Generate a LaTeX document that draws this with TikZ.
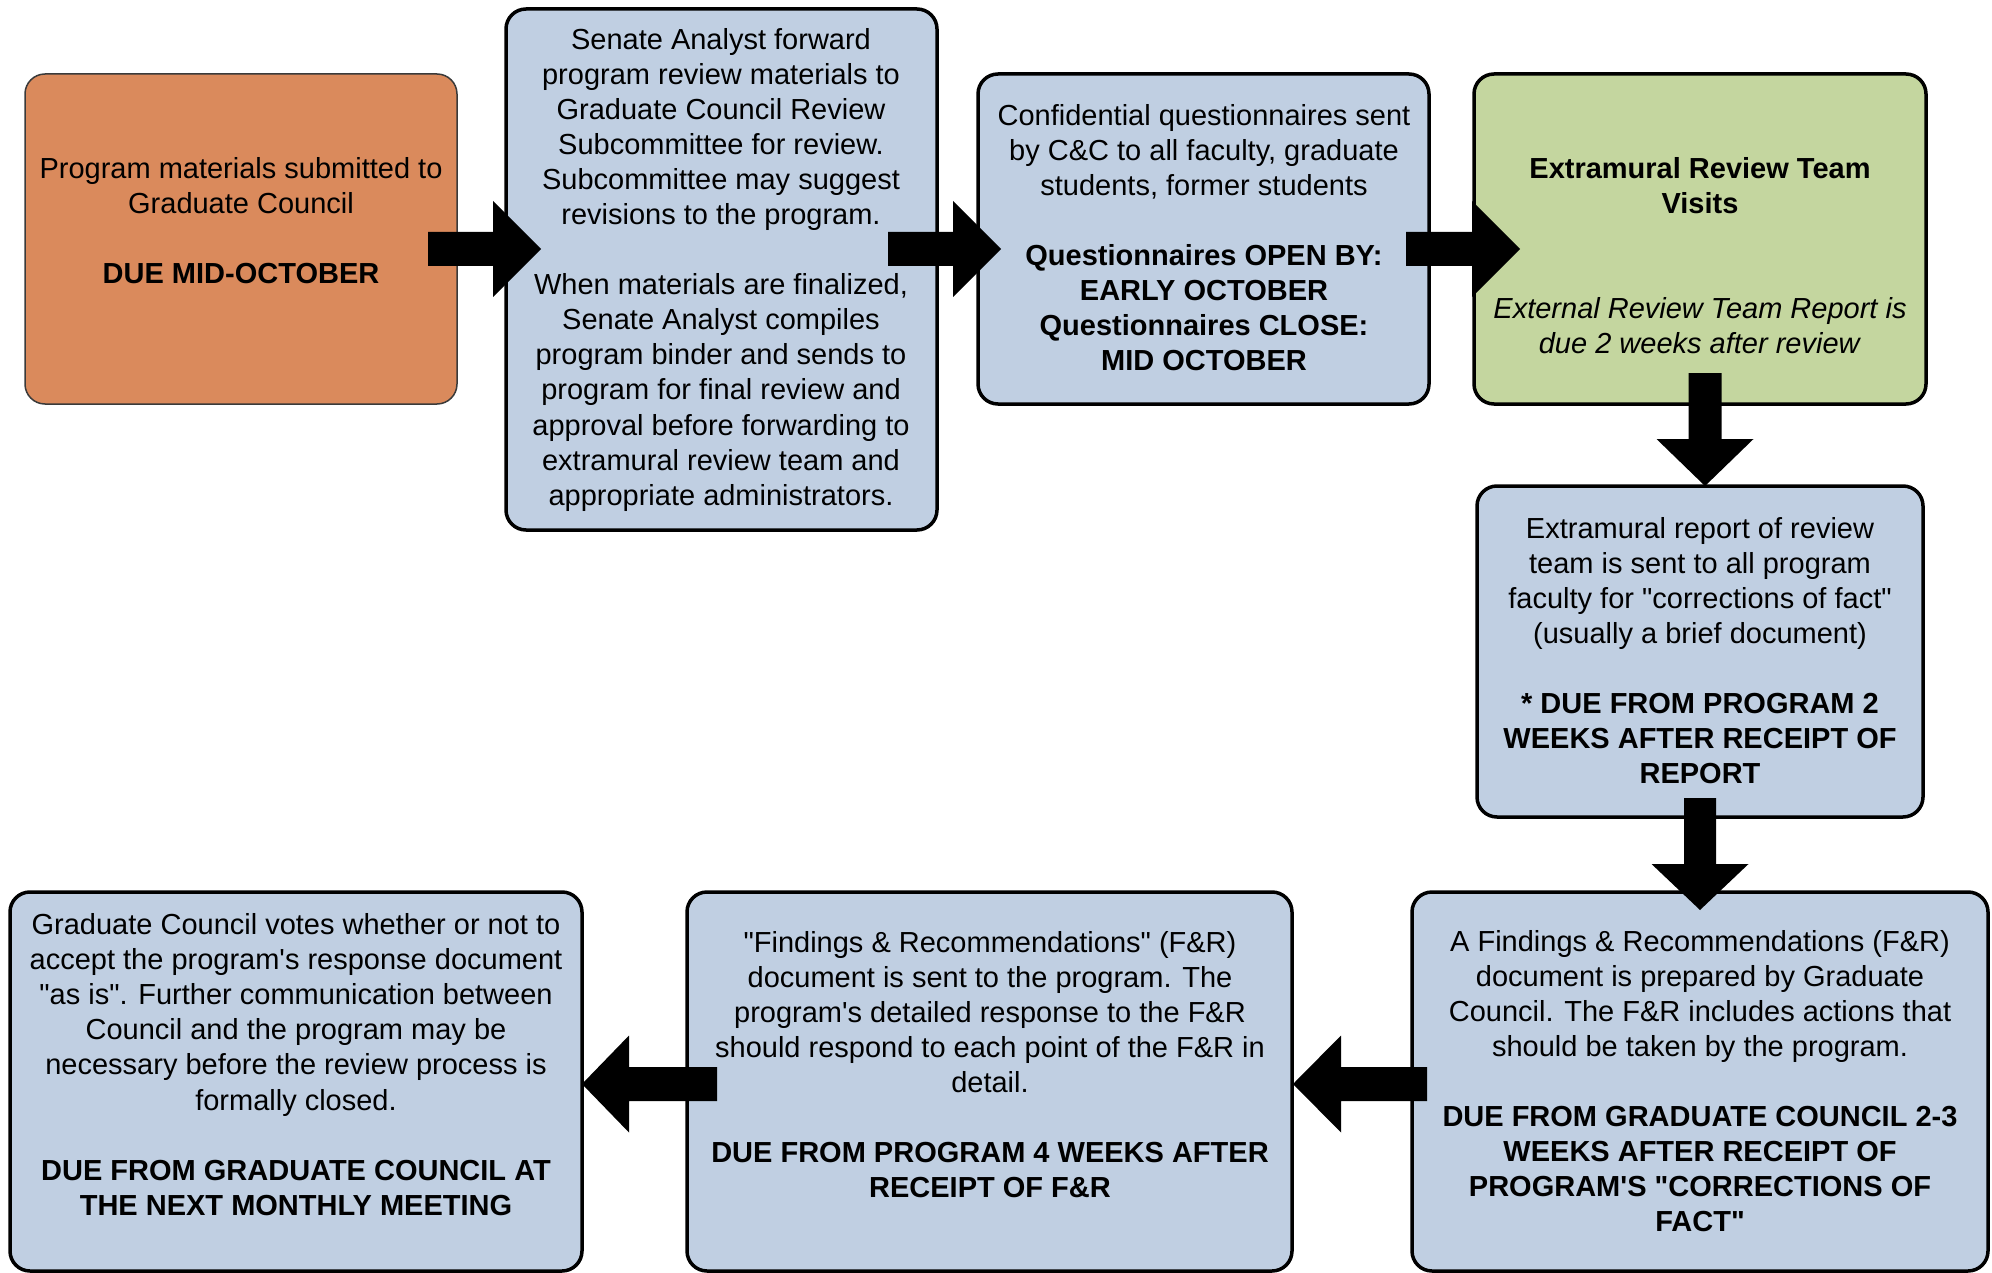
\documentclass[tikz,border=0pt]{standalone}
\usepackage{fontspec}
\setmainfont{Liberation Sans}
\usetikzlibrary{calc}
\definecolor{orangefill}{HTML}{DA8A5C}
\definecolor{bluefill}{HTML}{C0CFE2}
\definecolor{greenfill}{HTML}{C4D69F}
\definecolor{borderdark}{HTML}{3A3A3A}
\newcommand\blockarr[5]{%
  \coordinate (hb) at ($(#2)!#5!(#1)$);
  \fill ($(#1)!#3!90:(#2)$) -- ($(hb)!#3!-90:(#1)$) -- ($(hb)!#4!-90:(#1)$) -- (#2)
    -- ($(hb)!#4!90:(#1)$) -- ($(hb)!#3!90:(#1)$) -- ($(#1)!#3!-90:(#2)$) -- cycle;}
\newcommand\apos{\textquotesingle}
\newcommand\qq{\textquotedbl}
\begin{document}
\begin{tikzpicture}[x=1pt,y=-1pt,
  box/.style={draw=black, line width=3.5pt, rounded corners=20pt, inner sep=0pt},
  txt/.style={font=\fontsize{29}{35.08}\selectfont, align=center, inner sep=0pt},
]
\useasboundingbox (0,0) rectangle (1992,1273);
% boxes
\node[box, fill=orangefill, draw=borderdark, line width=1.5pt, minimum width=432pt, minimum height=330pt] (b1) at (241,239) {};
\node[box, fill=bluefill, minimum width=431pt, minimum height=521pt] (b2) at (721.5,269.5) {};
\node[box, fill=bluefill, minimum width=451pt, minimum height=330pt] (b3) at (1203.5,239) {};
\node[box, fill=greenfill, minimum width=452pt, minimum height=330pt] (b4) at (1700,239) {};
\node[box, fill=bluefill, minimum width=446pt, minimum height=331pt] (b5) at (1700,651.5) {};
\node[box, fill=bluefill, minimum width=576pt, minimum height=379pt] (b6) at (1700,1081.5) {};
\node[box, fill=bluefill, minimum width=605pt, minimum height=379pt] (b7) at (989.5,1081.5) {};
\node[box, fill=bluefill, minimum width=572pt, minimum height=379pt] (b8) at (296,1081.5) {};
% texts
\node[txt] (t1) at (241,220.4) {Program materials submitted to\\Graduate Council\\[35.08pt]\textbf{DUE MID-OCTOBER}};
\node[txt] (t2) at (721,269.7) {Senate Analyst forward\\program review materials to\\Graduate Council Review\\Subcommittee for review.\\Subcommittee may suggest\\revisions to the program.\\[35.08pt]When materials are finalized,\\Senate Analyst compiles\\program binder and sends to\\program for final review and\\approval before forwarding to\\extramural review team and\\appropriate administrators.};
\node[txt] (t3) at (1204,237.6) {Confidential questionnaires sent\\by C\&C to all faculty, graduate\\students, former students\\[35.08pt]\textbf{Questionnaires OPEN BY:}\\\textbf{EARLY OCTOBER}\\\textbf{Questionnaires CLOSE:}\\\textbf{MID OCTOBER}};
\node[txt] (t4) at (1700,255.4) {\textbf{Extramural Review Team}\\\textbf{Visits}\\[70.16pt]\textit{External Review Team Report is}\\\textit{due 2 weeks after review}};
\node[txt] (t5) at (1700,650.5) {Extramural report of review\\team is sent to all program\\faculty for \qq corrections of fact\qq\\(usually a brief document)\\[35.08pt]\textbf{* DUE FROM PROGRAM 2}\\\textbf{WEEKS AFTER RECEIPT OF}\\\textbf{REPORT}};
\node[txt] (t6) at (1700,1081.1) {A Findings \& Recommendations (F\&R)\\document is prepared by Graduate\\Council. The F\&R includes actions that\\should be taken by the program.\\[35.08pt]\textbf{DUE FROM GRADUATE COUNCIL 2-3}\\\textbf{WEEKS AFTER RECEIPT OF}\\\textbf{PROGRAM\apos S \qq CORRECTIONS OF}\\\textbf{FACT\qq}};
\node[txt] (t7) at (990,1064.6) {\qq Findings \& Recommendations\qq{} (F\&R)\\document is sent to the program. The\\program\apos s detailed response to the F\&R\\should respond to each point of the F\&R in\\detail.\\[35.08pt]\textbf{DUE FROM PROGRAM 4 WEEKS AFTER}\\\textbf{RECEIPT OF F\&R}};
\node[txt] (t8) at (296,1064.6) {Graduate Council votes whether or not to\\accept the program\apos s response document\\\qq as is\qq. Further communication between\\Council and the program may be\\necessary before the review process is\\formally closed.\\[35.08pt]\textbf{DUE FROM GRADUATE COUNCIL AT}\\\textbf{THE NEXT MONTHLY MEETING}};
% arrow end points
\coordinate (a1s) at (428,249);  \coordinate (a1t) at (541,249);
\coordinate (a2s) at (888,249);  \coordinate (a2t) at (1001,249);
\coordinate (a3s) at (1406,249); \coordinate (a3t) at (1520,249);
\coordinate (a4s) at (1705,373); \coordinate (a4t) at (1705,486);
\coordinate (a5s) at (1700,798); \coordinate (a5t) at (1700,910);
\coordinate (a6s) at (1427,1084); \coordinate (a6t) at (1293,1084);
\coordinate (a7s) at (717,1084); \coordinate (a7t) at (582,1084);
\blockarr{a1s}{a1t}{17pt}{48pt}{48pt}
\blockarr{a2s}{a2t}{17pt}{48pt}{48pt}
\blockarr{a3s}{a3t}{17pt}{48pt}{48pt}
\blockarr{a4s}{a4t}{16.5pt}{48.5pt}{47pt}
\blockarr{a5s}{a5t}{16pt}{48.5pt}{46pt}
\blockarr{a6s}{a6t}{17pt}{48.5pt}{48pt}
\blockarr{a7s}{a7t}{17pt}{48.5pt}{47pt}
\end{tikzpicture}
\end{document}
